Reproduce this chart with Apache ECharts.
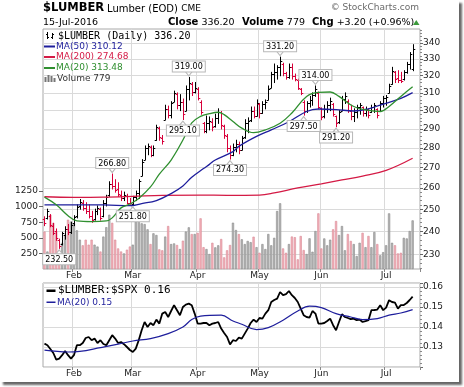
<!DOCTYPE html>
<html><head><meta charset="utf-8">
<script src="https://cdn.jsdelivr.net/npm/echarts@6/dist/echarts.min.js"></script>
<style>
html,body{margin:0;padding:0;background:#fff;}
#frame{position:absolute;left:0;top:0;width:459px;height:382px;background:#fff;box-shadow:3px 3px 2px rgba(0,0,0,0.6);}
#chart{position:absolute;left:0;top:0;width:464px;height:387px;}
</style></head><body>
<div id="frame"></div><div id="chart"></div>
<script>
// ---------- DATA ----------
const opens = [245.5,246,247,242.5,240,236,234.5,238.5,241,239.5,
243.5,247,251.5,253,250.5,249,247,245.5,249,250,
247,253,256.5,262,261,259.5,256.5,255,256,253,
252.5,255.5,257.5,266,274,280,280.5,276.5,284,290.5,
285,295,301,297.5,305,309.5,303,305,300,312,
315,310.5,312.5,305,293,289,293,294,291.5,296,
299,291.5,286.5,280,276.5,280.5,282,279,285.5,293,
295,300,297,303.5,298.5,303.5,306,313,321,322,
325,327,321.5,319.5,325,320,317.5,312.5,305,300,
304,306,309,310,301.5,297,301,303,303.5,297,
294,300,306.5,305.5,300,297,299.5,302,302,298.5,
300.5,299,302,301,300,304,307,310,315,322,
318.5,317.5,318,322,327,324];
const highs = [246.5,250,247.5,243.5,241,236.5,239.5,242,243,244,
247,252,254.5,254,253,252,249,250,251.5,250.5,
254,256.5,263,266.8,264,262.5,258.5,258,257,255,
256,258.5,264,274,281,282,281,281,292,291,
286.5,303,302.5,305,311,310,309,306.5,314,319,
316,316,313,305.5,293.5,297,296.5,295.5,298,301,
299.5,292,287,281,282,284,283,286,295,296,
302,302,306,304,305,306,314,322,327,326,
331.2,327.5,322,327,327,321,318,312.5,305.5,305,
308,310,314,310.5,301.5,303,305,307,304,297,
300,308,310,306,303,301,303,304,302,302,
301,303,304,301,305,308,308.5,315,325,322.5,
323,322,323,328,334,338.9];
const lows = [242.5,245.5,242,238.5,236,232.5,234,236.5,238.5,239,
242.5,246,250,249.5,248,246,244,245,247.5,245,
246.5,251.5,256,259.5,258,256,254,254,252.5,252.3,
251.8,254,255,266,274,276.5,275.5,276,284,284,
282,295,296,296,305,301,300,295.1,300,306,
308.5,310,306,298,288,288,289.5,289,291,293,
290,285,278,274.3,276,278,277,279,285,288,
294,296,297,296,298.5,301,306,313,316,318,
320,320,318,318.5,318,317,312,309,297.5,299,
302,303,308,301,295,296,299,300,297,291.2,
293,300,304,299,295,294,296,298,297,297,
296,299,299,296,300,302,303,310,315,316,
316,316,317.5,321.5,324,323];
const closes = [243.5,249,243,239,237,233.5,239,241,239.5,243,
246.5,251,253.5,250.5,249,247,245,249,250.5,246,
253,255.5,262,261,259,257,255,256.5,253,252.8,
255.5,257.5,263.5,273,280,281,276.5,280,291,285.5,
283.5,301,297.5,304,310,303,305,298,312,315.5,
310.5,313,307,299,289,293,294.5,291,296,299.5,
292,287,280,276.5,280.5,282,279,285,293,294.5,
300,297,304.5,298.5,303.5,305,312.5,321,322,325,
329,321.5,319.5,325,320,318,313,310,300,304,
306,309,312,302,296.5,301,303,305.5,298,293,
299,306.5,308,300.5,297,299.5,302,303,298.5,301,
297.5,302,303,297.5,304,307,307.5,314,323,318,
317.5,317,322,327,333,336.2];
const volumes = [600,280,870,740,610,280,420,550,790,760,730,620,470,380,470,390,470,390,360,280,520,670,870,740,470,330,280,250,310,360,390,760,790,
732,720,636,400,572,545,315,300,520,689,400,410,385,320,454,600,668,560,561,580,812,350,320,240,420,347,380,481,187,300,385,742,625,560,476,400,450,430,518,350,261,400,320,561,380,500,929,1053,330,260,400,520,510,155,
529,304,240,492,277,609,892,330,490,380,470,636,769,545,689,300,561,450,400,208,420,580,350,530,350,593,400,220,270,380,892,420,380,250,260,500,490,609,779];
// moving averages: [trading-day index, value]
const ma50 = [[0,252.0],[10,252.0],[20,252.0],[29,251.6],[33,252.6],[38,254.0],[43,257.3],[47,261.0],[50,265.2],[54,269.5],[56,271.6],[58,273.8],[64,278.1],[66,280.8],[72,286.0],[77,289.5],[83,293.9],[89,299.5],[93,300.9],[99,300.6],[105,299.8],[110,301.0],[114,303.1],[121,306.9],[125,310.12]];
const ma200 = [[0,255.8],[10,255.5],[20,255.6],[30,256.0],[40,256.5],[53,256.6],[62,256.5],[73,256.6],[78,257.6],[86,260.0],[94,262.0],[101,263.9],[108,265.8],[116,268.6],[125,274.68]];
const ma20 = [[0,255.6],[4,252.0],[8,247.0],[11,244.6],[16,244.3],[21,244.6],[23,246.0],[26,250.6],[29,252.4],[32,255.0],[36,260.5],[39,266.7],[43,273.8],[47,284.1],[50,293.3],[53,296.8],[56,298.3],[59,299.1],[61,297.8],[64,294.0],[67,290.4],[71,288.0],[75,289.5],[80,293.1],[84,298.7],[89,308.0],[93,310.3],[97,310.5],[100,308.0],[105,302.3],[110,300.1],[114,299.5],[117,302.3],[121,308.0],[125,313.48]];
const ratio = [.1317,.1309,.1290,.1270,.1237,.1242,.1259,.1280,.1259,.1242,
.1259,.1309,.1309,.1320,.1345,.1350,.1334,.1342,.1320,.1334,
.1315,.1309,.1334,.1359,.1342,.1320,.1325,.1314,.1300,.1285,
.1275,.1292,.1334,.1384,.1425,.1400,.1420,.1409,.1437,.1417,
.1467,.1475,.1450,.1480,.1509,.1484,.1459,.1500,.1512,.1517,
.1509,.1467,.1417,.1417,.1420,.1420,.1409,.1417,.1420,.1425,
.1392,.1370,.1350,.1313,.1334,.1330,.1347,.1342,.1367,.1392,
.1420,.1437,.1425,.1445,.1442,.1467,.1484,.1525,.1535,.1542,
.1575,.1559,.1564,.1580,.1559,.1545,.1525,.1492,.1459,.1450,
.1447,.1480,.1467,.1417,.1417,.1420,.1430,.1442,.1409,.1384,
.1425,.1464,.1450,.1445,.1439,.1442,.1434,.1437,.1425,.1429,
.1434,.1484,.1485,.1487,.1509,.1484,.1497,.1534,.1525,.1522,
.1492,.1509,.1510,.1520,.1535,.1552];
const ratioMa20 = [[0,.1284],[8,.1275],[12,.1278],[19,.1297],[25,.1314],[30,.1330],[36,.1342],[42,.1367],[47,.1400],[50,.1437],[53,.1454],[60,.1459],[64,.1430],[67,.1414],[72,.1387],[76,.1397],[81,.1434],[86,.1480],[90,.1504],[94,.1497],[99,.1467],[104,.1450],[108,.1437],[113,.1442],[117,.1459],[121,.1470],[125,.1487]];
const highMarks = [23,49,80,92];
const lowMarks = [5,30,47,63,88,99];
const priceTicks = [230,240,250,260,270,280,290,300,310,320,330,340];
const volumeTicks = [250,500,750,1000,1250];
const monthAbbr = ['Jan','Feb','Mar','Apr','May','Jun','Jul','Aug','Sep','Oct','Nov','Dec'];

// ---------- trading-day categories ----------
const holidays = ['2016-01-18','2016-02-15','2016-03-25','2016-05-30','2016-07-04'];
const dates = [];
for (let d = new Date(Date.UTC(2016,0,15)); d <= new Date(Date.UTC(2016,6,19)); d.setUTCDate(d.getUTCDate()+1)) {
  const wd = d.getUTCDay(); const s = d.toISOString().slice(0,10);
  if (wd===0 || wd===6 || holidays.indexOf(s) >= 0) continue;
  dates.push(s);
}
const isMonthStart = (i) => i > 0 && i < dates.length && dates[i].slice(5,7) !== dates[i-1].slice(5,7);

const FONT = 'DejaVu Sans', MONO = 'DejaVu Sans Mono';
const RED = '#d8003a', BLUE = '#1e1e9c', GREEN = '#2f8f2f', CRIMSON = '#d41a45';
const n = closes.length;
const up = closes.map((c,i) => c >= (i === 0 ? opens[0] : closes[i-1]) ? 1 : 0);
const ohlc = closes.map((c,i) => [i, opens[i], highs[i], lows[i], c, up[i]]);

const boxLabel = {show:true, color:'#000', fontFamily:FONT, fontSize:8, lineHeight:9,
  backgroundColor:'#fff', borderColor:'#b8b8b8', borderWidth:1, padding:[1,2,0,2]};
const marks = [];
highMarks.forEach(i => marks.push({coord:[i, highs[i]], symbol:'path://M0,0L5,6L10,0Z', symbolSize:[8,5], symbolOffset:[0,-4],
  itemStyle:{color:'#fff', borderColor:'#b8b8b8', borderWidth:1},
  label:Object.assign({position:'top', distance:-1, formatter: highs[i].toFixed(2)}, boxLabel)}));
lowMarks.forEach(i => marks.push({coord:[i, lows[i]], symbol:'path://M0,6L5,0L10,6Z', symbolSize:[8,5], symbolOffset:[0,4],
  itemStyle:{color:'#fff', borderColor:'#b8b8b8', borderWidth:1},
  label:Object.assign({position:'bottom', distance:-1, formatter: lows[i].toFixed(2)}, boxLabel)}));

const minorTicks = [];
for (let v = 224; v <= 348; v += 2) if (v % 10 !== 0) minorTicks.push(v);

function mkX(g, margin) {
  return {type:'category', gridIndex:g, data:dates, boundaryGap:true,
    axisLine:{show:false},
    axisTick:{show:true, interval:isMonthStart, length:3, lineStyle:{color:'#888'}},
    axisLabel:{interval:isMonthStart, formatter:v => monthAbbr[+v.slice(5,7)-1], fontFamily:FONT, fontSize:9, color:'#222', margin:margin},
    splitLine:{show:true, interval:isMonthStart, lineStyle:{color:'#dadada', width:1}}};
}
const axisLbl = {fontFamily:FONT, fontSize:9, color:'#222'};

function txt(x, y, text, extra) {
  return {type:'text', x:x, y:y, z:100, silent:true,
    style:Object.assign({text:text, fill:'#000', fontFamily:FONT, fontSize:10, verticalAlign:'middle'}, extra || {})};
}
function bar(x, y, w, h, c) { return {type:'rect', z:100, silent:true, shape:{x:x,y:y,width:w,height:h}, style:{fill:c}}; }
function seg(x1,y1,x2,y2,c,w) { return {type:'line', z:100, silent:true, shape:{x1:x1,y1:y1,x2:x2,y2:y2}, style:{stroke:c, lineWidth:w||1}}; }

const lastClose = closes[n-1], chg = closes[n-1]-closes[n-2];
const richB = {b:{fontWeight:'bold', fontSize:10, fontFamily:FONT}};
const graphics = [
  txt(43, 8.5, '$LUMBER', {fontWeight:'bold', fontSize:11.5}),
  txt(107, 9, '{a|Lumber (EOD)} {c|CME}', {rich:{a:{fontSize:10, fontFamily:FONT}, c:{fontSize:9, fontFamily:FONT}}}),
  txt(419, 8, '© StockCharts.com', {fontSize:9, fill:'#6a6a6a', textAlign:'right'}),
  txt(43, 22.5, '15-Jul-2016', {fontSize:9.5}),
  txt(168, 22.5, '{b|Close} ' + lastClose.toFixed(2), {fontSize:9.5, rich:richB}),
  txt(242, 22.5, '{b|Volume} ' + volumes[n-1], {fontSize:9.5, rich:richB}),
  txt(312, 22.5, '{b|Chg} +' + chg.toFixed(2) + ' (+' + (chg/closes[n-2]*100).toFixed(2) + '%)', {fontSize:9.5, rich:richB}),
  {type:'polygon', z:100, silent:true, shape:{points:[[413,25],[419.5,25],[416.25,20]]}, style:{fill:'#3c9a3c'}},
  // price legend
  seg(47.5,32,47.5,39,'#000'), seg(46,34.5,47.5,34.5,'#000'), seg(47.5,37.5,49,37.5,'#000'),
  seg(52.5,33,52.5,39,'#000'), seg(51,37.5,52.5,37.5,'#000'), seg(52.5,34.5,54,34.5,'#000'),
  txt(58, 36, '$LUMBER (Daily) ' + lastClose.toFixed(2), {fontFamily:MONO, fontSize:10}),
  bar(44, 45.5, 11, 2, BLUE), txt(56, 46.5, 'MA(50) ' + ma50[ma50.length-1][1].toFixed(2), {fontSize:9, fill:BLUE}),
  bar(44, 56, 11, 2, CRIMSON), txt(56, 57, 'MA(200) ' + ma200[ma200.length-1][1].toFixed(2), {fontSize:9, fill:CRIMSON}),
  bar(44, 67, 11, 2, GREEN), txt(56, 68, 'MA(20) ' + ma20[ma20.length-1][1].toFixed(2), {fontSize:9, fill:GREEN}),
  bar(44.5,77,2,5,'#777'), bar(47.5,75,2,7,'#777'), bar(50.5,76,2,6,'#777'), bar(53.5,78,2,4,'#777'),
  txt(57, 79, 'Volume ' + volumes[n-1], {fontSize:9, fill:'#333'}),
  // ratio legend
  bar(46.5, 289.5, 9, 2.5, '#000'), txt(58, 290.5, '$LUMBER:$SPX ' + ratio[n-1].toFixed(2), {fontFamily:MONO, fontSize:11}),
  bar(46.5, 301.5, 9, 1.5, BLUE), txt(57, 302.3, 'MA(20) ' + ratioMa20[ratioMa20.length-1][1].toFixed(2), {fontSize:9, fill:BLUE})
];

const option = {
  animation:false,
  grid:[
    {left:43, top:29, width:377, height:240, show:true, borderColor:'#a8a8a8', borderWidth:1, backgroundColor:'#fff'},
    {left:43, top:283, width:377, height:84, show:true, borderColor:'#a8a8a8', borderWidth:1, backgroundColor:'#fff'}
  ],
  xAxis:[mkX(0, 2), mkX(1, 2.5)],
  yAxis:[
    {type:'log', gridIndex:0, position:'right', min:223.8, max:348.9, logBase:10,
      axisLine:{show:false},
      axisTick:{show:true, customValues:priceTicks, length:3, lineStyle:{color:'#666'}},
      axisLabel:Object.assign({customValues:priceTicks, margin:3, formatter:v => String(Math.round(v))}, axisLbl),
      splitLine:{show:true, lineStyle:{color:'#dadada'}}},
    {type:'value', gridIndex:0, position:'left', min:0, max:3846,
      axisLine:{show:false},
      axisTick:{show:true, customValues:volumeTicks, length:4, lineStyle:{color:'#666'}},
      axisLabel:Object.assign({customValues:volumeTicks, margin:5, formatter:v => String(Math.round(v))}, axisLbl),
      splitLine:{show:false}},
    {type:'log', gridIndex:0, position:'right', min:223.8, max:348.9, logBase:10,
      axisLine:{show:false},
      axisTick:{show:true, customValues:minorTicks, length:2, lineStyle:{color:'#888'}},
      axisLabel:{show:false, customValues:minorTicks}, splitLine:{show:false}},
    {type:'value', gridIndex:1, position:'right', min:0.12, max:0.162, interval:0.01,
      axisLine:{show:false},
      axisTick:{show:true, length:3, lineStyle:{color:'#666'}},
      minorTick:{show:true, splitNumber:5, length:2, lineStyle:{color:'#888'}},
      axisLabel:Object.assign({showMinLabel:false, showMaxLabel:false, margin:3, formatter:v => v.toFixed(2)}, axisLbl),
      splitLine:{show:true, lineStyle:{color:'#dadada'}}}
  ],
  series:[
    {type:'bar', xAxisIndex:0, yAxisIndex:1, z:1, barWidth:2.2, silent:true,
      data:volumes.map((v,i) => ({value:v, itemStyle:{color: up[i] ? '#b6b6b6' : '#f3b1ba', borderColor: up[i] ? '#8a8a8a' : '#d98a95', borderWidth:0.6}}))},
    {type:'custom', xAxisIndex:0, yAxisIndex:0, z:3, silent:true, data:ohlc, encode:{x:0, y:[1,2,3,4]},
      renderItem:function(params, api){
        const i = api.value(0);
        const pH = api.coord([i, api.value(2)]), pL = api.coord([i, api.value(3)]);
        const pO = api.coord([i, api.value(1)]), pC = api.coord([i, api.value(4)]);
        const x = Math.round(pH[0]) + 0.5;
        const st = {stroke: api.value(5) ? '#000' : RED, lineWidth:1};
        const yo = Math.round(pO[1]) + 0.5, yc = Math.round(pC[1]) + 0.5;
        return {type:'group', children:[
          {type:'line', shape:{x1:x, y1:pH[1]-0.5, x2:x, y2:pL[1]+0.5}, style:st},
          {type:'line', shape:{x1:x-1.8, y1:yo, x2:x, y2:yo}, style:st},
          {type:'line', shape:{x1:x, y1:yc, x2:x+1.8, y2:yc}, style:st}
        ]};
      },
      markPoint:{silent:true, z:10, data:marks}},
    {type:'line', xAxisIndex:0, yAxisIndex:0, z:4, data:ma200, smooth:0.4, showSymbol:false, silent:true, lineStyle:{color:CRIMSON, width:1.3}},
    {type:'line', xAxisIndex:0, yAxisIndex:0, z:4, data:ma50, smooth:0.4, showSymbol:false, silent:true, lineStyle:{color:BLUE, width:1.3}},
    {type:'line', xAxisIndex:0, yAxisIndex:0, z:4, data:ma20, smooth:0.4, showSymbol:false, silent:true, lineStyle:{color:GREEN, width:1.3}},
    {type:'line', xAxisIndex:1, yAxisIndex:3, z:3, data:ratio, showSymbol:false, silent:true, lineStyle:{color:'#000', width:1.8}},
    {type:'line', xAxisIndex:1, yAxisIndex:3, z:3, data:ratioMa20, smooth:0.4, showSymbol:false, silent:true, lineStyle:{color:BLUE, width:1.2}}
  ],
  graphic:graphics
};
const chart = echarts.init(document.getElementById('chart'), null, {renderer:'canvas'});
chart.setOption(option);
</script></body></html>
